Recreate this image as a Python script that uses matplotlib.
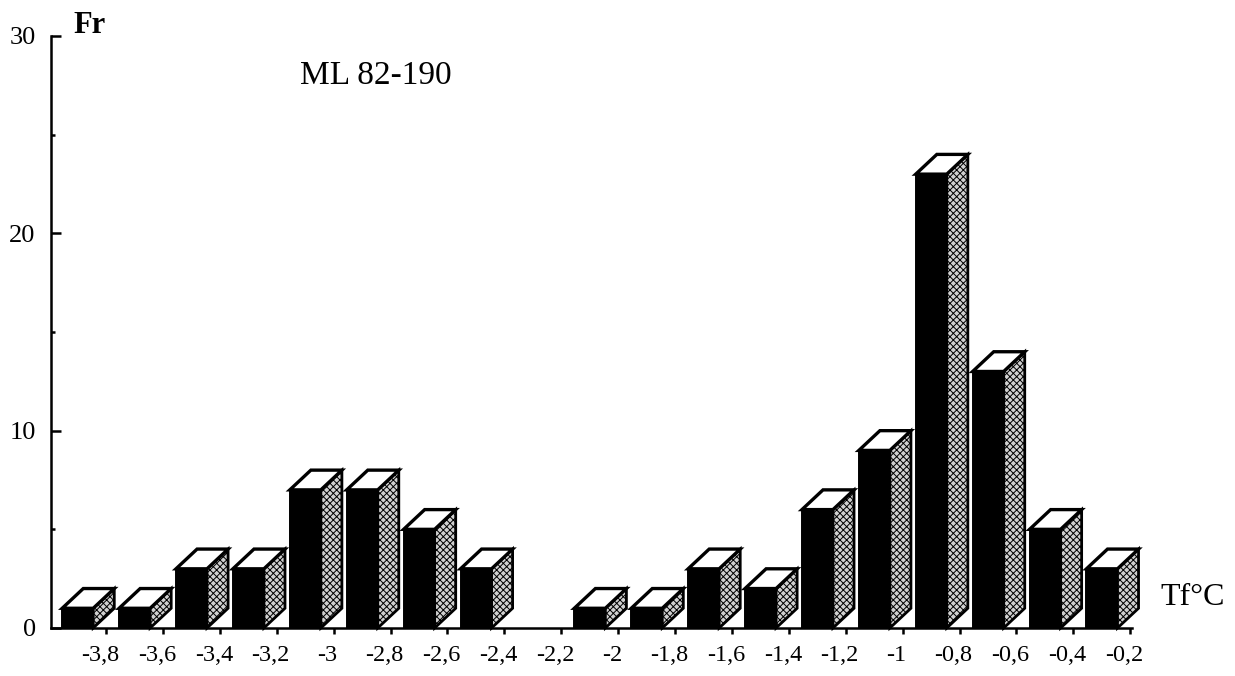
import numpy as np
import matplotlib
matplotlib.use("Agg")
import matplotlib.pyplot as plt
from matplotlib.patches import Rectangle, Polygon
from matplotlib.transforms import ScaledTranslation

# classes de temperature de fusion (Tf) et frequences
temps = ["-3,8", "-3,6", "-3,4", "-3,2", "-3", "-2,8", "-2,6", "-2,4", "-2,2", "-2",
         "-1,8", "-1,6", "-1,4", "-1,2", "-1", "-0,8", "-0,6", "-0,4", "-0,2"]
freq = [1, 1, 3, 3, 7, 7, 5, 3, 0, 1, 1, 3, 2, 6, 9, 23, 13, 5, 3]

plt.rcParams['font.family'] = ['Liberation Serif', 'DejaVu Serif']
plt.rcParams['hatch.linewidth'] = 0.7

W, H = 1235, 676
fig = plt.figure(figsize=(W / 100, H / 100), dpi=100)
ax = fig.add_axes([51 / W, 48 / H, (1132 - 51) / W, (628 - 36) / H])

# barres en pseudo 3D : face avant, cote, dessus
dx, dy = 0.37, 1.0
bw = 0.545
for i, v in enumerate(freq):
    if v == 0:
        continue
    l = i - 0.77
    r = l + bw
    side = Polygon([(r, 0), (r + dx, dy), (r + dx, v + dy), (r, v)], closed=True,
                   facecolor="#d0d0d0", edgecolor="black", hatch="xxxxx",
                   linewidth=2.0, clip_on=False, zorder=3)
    top = Polygon([(l, v), (l + dx, v + dy), (r + dx, v + dy), (r, v)], closed=True,
                  facecolor="white", edgecolor="black", linewidth=2.4,
                  joinstyle="miter", clip_on=False, zorder=4)
    front = Rectangle((l, 0), bw, v, facecolor="black", edgecolor="black",
                      linewidth=1.4, clip_on=False, zorder=5)
    ax.add_patch(side)
    ax.add_patch(top)
    ax.add_patch(front)

ax.set_xlim(-0.967, 18.03)
ax.set_ylim(0, 30)

for s in ["top", "right"]:
    ax.spines[s].set_visible(False)
ax.spines["left"].set_linewidth(1.8)
ax.spines["bottom"].set_linewidth(1.8)

ax.set_yticks([0, 10, 20, 30])
ax.set_yticks([5, 15, 25], minor=True)
ax.tick_params(axis="y", which="major", direction="in", length=7, width=1.8,
               labelsize=19, pad=11)
ax.tick_params(axis="y", which="minor", direction="in", length=3, width=1.8)

ax.set_xticks(range(len(temps)))
ax.set_xticklabels(temps)
ax.tick_params(axis="x", direction="out", length=4, width=1.8, labelsize=17.5, pad=8)
shift = ScaledTranslation(-6 / 100, 0, fig.dpi_scale_trans)
for lab in ax.get_xticklabels():
    lab.set_transform(lab.get_transform() + shift)

fig.text(73 / W, 1 - 33 / H, "Fr", fontsize=22, fontweight="bold", va="baseline")
fig.text(300 / W, 1 - 84 / H, "ML 82-190", fontsize=24, va="baseline")
fig.text(1160 / W, 1 - 605 / H, "Tf°C", fontsize=23, va="baseline")

fig.savefig("out.png", dpi=100)
